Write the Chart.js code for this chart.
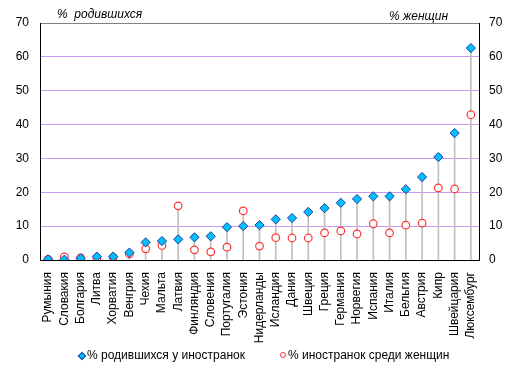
<!DOCTYPE html>
<html><head><meta charset="utf-8">
<script src="https://cdn.jsdelivr.net/npm/chart.js@4/dist/chart.umd.min.js"></script>
<style>
html,body{margin:0;padding:0;background:#fff;}
#wrap{position:relative;width:517px;height:372px;font-family:"Liberation Sans",Arial,sans-serif;}
canvas{position:absolute;left:0;top:0;}
.t{position:absolute;font-size:12px;color:#000;white-space:nowrap;}
.it{font-style:italic;}
.mk{position:absolute;}
</style></head>
<body>
<div id="wrap">
<canvas id="c" width="517" height="372"></canvas>
<div class="t it" style="left:57px;top:7px;">%&nbsp; родившихся</div>
<div class="t it" style="left:389px;top:9px;">% женщин</div>
<div class="mk" style="left:79px;top:353px;width:4px;height:4px;background:#00BFFF;border:1px solid #1F3FA0;transform:rotate(45deg);"></div>
<div class="t" style="left:87px;top:348px;">% родившихся у иностранок</div>
<div class="mk" style="left:280px;top:352px;width:4px;height:4px;border:1px solid #FF3333;border-radius:50%;background:#fff;"></div>
<div class="t" style="left:288px;top:348px;">% иностранок среди женщин</div>
</div>
<script>
const categories = ["Румыния","Словакия","Болгария","Литва","Хорватия","Венгрия","Чехия","Мальта","Латвия","Финляндия","Словения","Португалия","Эстония","Нидерланды","Исландия","Дания","Швеция","Греция","Германия","Норвегия","Испания","Италия","Бельгия","Австрия","Кипр","Швейцария","Люксембург"];
const bornToForeign = [0.2,0.1,0.5,1.0,1.0,2.2,5.2,5.6,6.1,6.7,7.0,9.7,10.0,10.3,12.0,12.4,14.2,15.3,16.9,18.0,18.8,18.8,20.9,24.5,30.4,37.5,62.6];
const foreignWomen = [0.2,0.9,0.6,0.6,0.8,1.8,3.3,4.3,16.0,3.0,2.4,3.8,14.5,4.1,6.6,6.5,6.5,8.0,8.6,7.7,10.7,8.0,10.3,10.9,21.3,21.0,42.9];
const yTicks = [0,10,20,30,40,50,60,70];

const dropLines = bornToForeign.map((v,i)=>Math.max(v, foreignWomen[i]));
const font = {family:"'Liberation Sans', Arial, sans-serif", size:12};

new Chart(document.getElementById('c'), {
  type:'line',
  data:{
    labels:categories,
    datasets:[
      {label:'% родившихся у иностранок', data:bornToForeign, showLine:false, pointStyle:'rectRot', pointRadius:4.6, pointHoverRadius:4.6,
       backgroundColor:'#00BFFF', borderColor:'#1F3FA0', borderWidth:1, yAxisID:'y', order:1},
      {label:'% иностранок среди женщин', data:foreignWomen, showLine:false, pointStyle:'circle', pointRadius:3.8, pointHoverRadius:3.8,
       backgroundColor:'#FFFFFF', borderColor:'#FF3333', borderWidth:1.2, yAxisID:'y2', order:2},
      {type:'bar', label:'drop', data:dropLines, backgroundColor:'#BFBFBF', barThickness:1, yAxisID:'y', order:3}
    ]
  },
  options:{
    responsive:false, animation:false, devicePixelRatio:1,
    layout:{padding:{top:23,left:0,right:0,bottom:0}},
    plugins:{legend:{display:false}, tooltip:{enabled:false}},
    scales:{
      x:{offset:true, grid:{display:false}, border:{display:true,color:'#000',width:1},
         ticks:{color:'#000', font:font, minRotation:90, maxRotation:90, autoSkip:false, padding:4},
         afterFit:s=>{s.height=112;}},
      y:{position:'left', min:0, max:70, afterBuildTicks:s=>{s.ticks=yTicks.map(v=>({value:v}));},
         grid:{color:c=>c.tick.value===70?'#808080':(c.tick.value===0?'rgba(0,0,0,0)':'#CC99F0'), drawTicks:false, lineWidth:1},
         border:{display:true,color:'#000',width:1},
         ticks:{color:'#000', font:font, padding:11},
         afterFit:s=>{s.width=40;}},
      y2:{position:'right', min:0, max:70, afterBuildTicks:s=>{s.ticks=yTicks.map(v=>({value:v}));},
         grid:{display:false, drawTicks:false},
         border:{display:true,color:'#000',width:1},
         ticks:{color:'#000', font:font, padding:10},
         afterFit:s=>{s.width=38;}}
    }
  }
});
</script>
</body></html>
